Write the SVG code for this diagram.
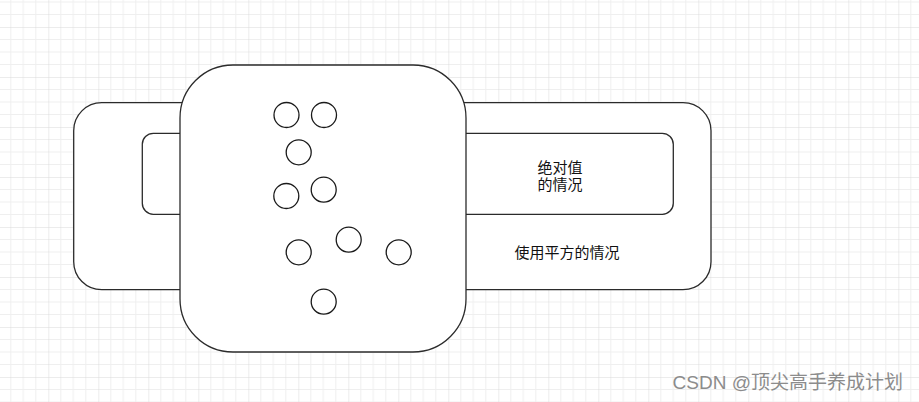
<svg xmlns="http://www.w3.org/2000/svg" width="919" height="402" viewBox="0 0 919 402">
<style>
.shape{fill:#ffffff;stroke:#2b2b2b;stroke-width:1.3}
.dot{fill:#ffffff;stroke:#1a1a1a;stroke-width:1.3}
.lbl{font-family:"Liberation Sans","Noto Sans CJK SC",sans-serif;font-size:15px;fill:#111111;text-anchor:middle}
.wm{font-family:"Liberation Sans","Noto Sans CJK SC",sans-serif;font-size:19px;fill:#8c8c8c;text-anchor:end}
</style>
<defs>
<pattern id="grid" patternUnits="userSpaceOnUse" x="48.3" y="27" width="50" height="50">
<path d="M12.5 0V50M25 0V50M37.5 0V50M0 12.5H50M0 25H50M0 37.5H50" stroke="#efefef" stroke-width="1" fill="none"/>
<path d="M0 0V50M0 0H50" stroke="#d9d9d9" stroke-width="1" fill="none"/>
</pattern>
</defs>
<rect width="919" height="402" fill="#ffffff"/>
<rect width="919" height="402" fill="url(#grid)"/>
<g id="outer-band">
<rect class="shape" x="73.7" y="102.7" width="637.3" height="187" rx="28" ry="28"/>
<text class="lbl" x="567" y="258">使用平方的情况</text>
</g>
<g id="inner-band">
<rect class="shape" x="142.3" y="133.3" width="531" height="81" rx="11" ry="11"/>
<text class="lbl" x="560" y="173">绝对值</text>
<text class="lbl" x="560" y="190">的情况</text>
</g>
<g id="square">
<rect class="shape" x="180" y="65" width="286" height="287" rx="53" ry="53"/>
</g>
<g id="dots">
<circle class="dot" cx="286.5" cy="115" r="12.5"/>
<circle class="dot" cx="324" cy="115" r="12.5"/>
<circle class="dot" cx="298.7" cy="152.3" r="12.5"/>
<circle class="dot" cx="286.3" cy="196" r="12.5"/>
<circle class="dot" cx="323.7" cy="189.7" r="12.5"/>
<circle class="dot" cx="298.7" cy="252.3" r="12.5"/>
<circle class="dot" cx="348.7" cy="239.7" r="12.5"/>
<circle class="dot" cx="398.7" cy="252.3" r="12.5"/>
<circle class="dot" cx="323.7" cy="301.7" r="12.5"/>
</g>
<g id="connectors"/>
<text class="wm" x="903" y="389">CSDN @顶尖高手养成计划</text>
</svg>
